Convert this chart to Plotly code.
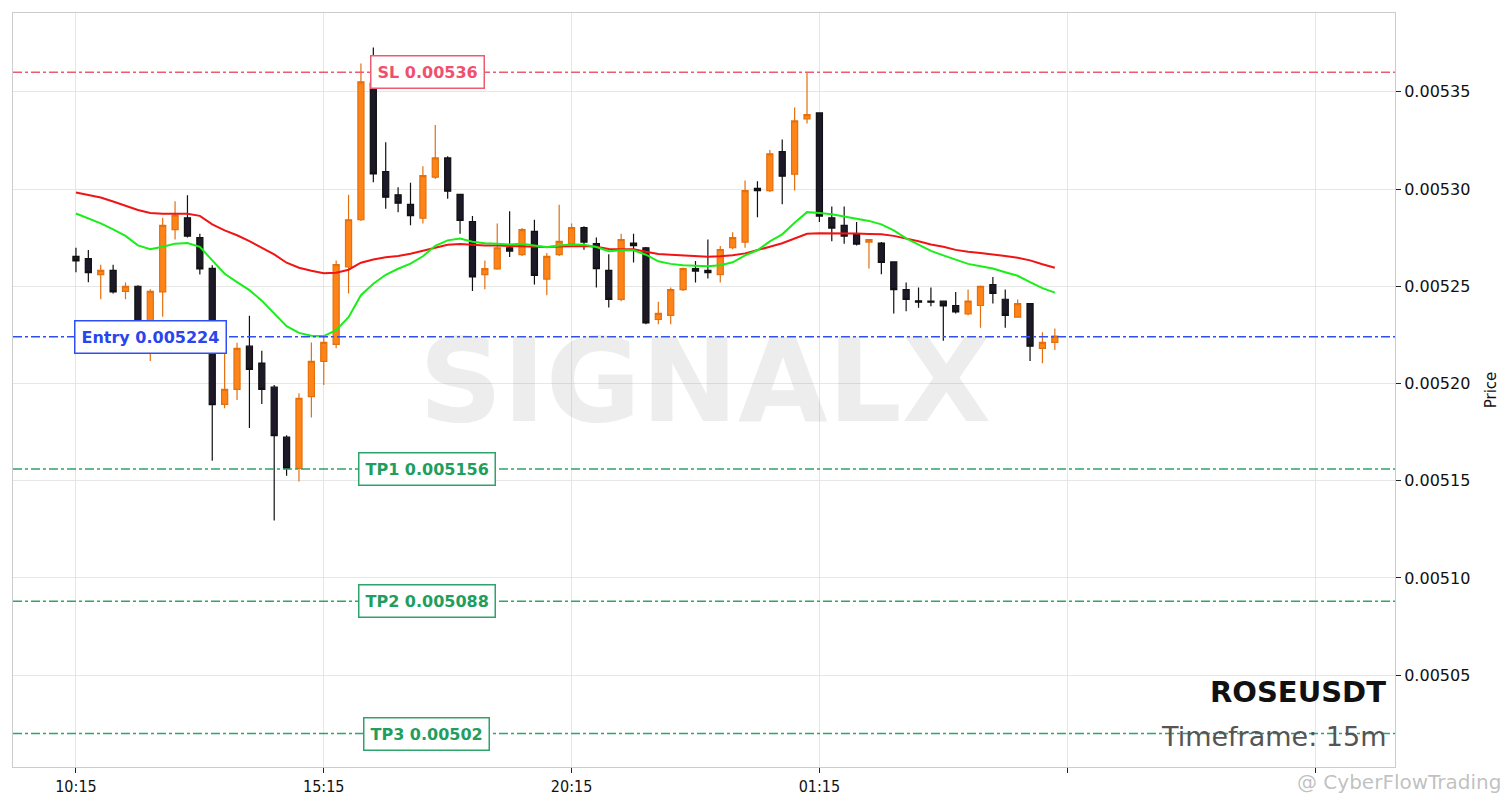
import pandas as pd
import plotly.graph_objects as go

# ---- data (prices) ----
symbol = "ROSEUSDT"
timeframe = "15m"
start_time = "2025-01-01 10:15"
n_candles = 80

opens = [0.0052654, 0.0052642, 0.0052560, 0.0052582, 0.0052474, 0.0052500, 0.0052197, 0.0052471, 0.0052791, 0.0052852,
         0.0052750, 0.0052592, 0.0051893, 0.0051970, 0.0052192, 0.0052105, 0.0051981, 0.0051724, 0.0051563, 0.0051932,
         0.0052114, 0.0052201, 0.0052599, 0.0052842, 0.0053545, 0.0053090, 0.0052970, 0.0052921, 0.0052850, 0.0053061,
         0.0053160, 0.0052972, 0.0052833, 0.0052560, 0.0052589, 0.0052698, 0.0052663, 0.0052782, 0.0052537, 0.0052663,
         0.0052719, 0.0052801, 0.0052719, 0.0052582, 0.0052432, 0.0052722, 0.0052698, 0.0052329, 0.0052350, 0.0052483,
         0.0052591, 0.0052582, 0.0052560, 0.0052698, 0.0052727, 0.0053003, 0.0052992, 0.0053192, 0.0053076, 0.0053360,
         0.0053391, 0.0052852, 0.0052813, 0.0052770, 0.0052727, 0.0052722, 0.0052625, 0.0052483, 0.0052425, 0.0052423,
         0.0052423, 0.0052401, 0.0052358, 0.0052401, 0.0052509, 0.0052433, 0.0052341, 0.0052411, 0.0052181, 0.0052211]
highs = [0.0052698, 0.0052686, 0.0052611, 0.0052610, 0.0052519, 0.0052505, 0.0052485, 0.0052852, 0.0052937, 0.0052968,
         0.0052770, 0.0052608, 0.0052211, 0.0052209, 0.0052348, 0.0052168, 0.0051992, 0.0051734, 0.0051950, 0.0052211,
         0.0052244, 0.0052633, 0.0052970, 0.0053645, 0.0053727, 0.0053240, 0.0053009, 0.0053032, 0.0053117, 0.0053329,
         0.0053168, 0.0052975, 0.0052861, 0.0052633, 0.0052822, 0.0052886, 0.0052800, 0.0052842, 0.0052671, 0.0052919,
         0.0052822, 0.0052809, 0.0052750, 0.0052664, 0.0052770, 0.0052770, 0.0052702, 0.0052420, 0.0052493, 0.0052596,
         0.0052630, 0.0052740, 0.0052707, 0.0052778, 0.0053044, 0.0053040, 0.0053201, 0.0053255, 0.0053419, 0.0053599,
         0.0053394, 0.0052910, 0.0052910, 0.0052830, 0.0052742, 0.0052727, 0.0052627, 0.0052519, 0.0052493, 0.0052493,
         0.0052425, 0.0052471, 0.0052483, 0.0052504, 0.0052548, 0.0052483, 0.0052432, 0.0052414, 0.0052263, 0.0052283]
lows = [0.0052572, 0.0052521, 0.0052433, 0.0052463, 0.0052433, 0.0052220, 0.0052115, 0.0052343, 0.0052740, 0.0052750,
        0.0052560, 0.0051603, 0.0051873, 0.0051915, 0.0051771, 0.0051895, 0.0051296, 0.0051526, 0.0051496, 0.0051825,
        0.0051992, 0.0052181, 0.0052463, 0.0052835, 0.0053035, 0.0052898, 0.0052880, 0.0052813, 0.0052822, 0.0053052,
        0.0052950, 0.0052770, 0.0052476, 0.0052485, 0.0052585, 0.0052650, 0.0052655, 0.0052509, 0.0052454, 0.0052655,
        0.0052710, 0.0052688, 0.0052493, 0.0052391, 0.0052423, 0.0052622, 0.0052305, 0.0052305, 0.0052305, 0.0052476,
        0.0052519, 0.0052540, 0.0052519, 0.0052690, 0.0052698, 0.0052855, 0.0052985, 0.0052921, 0.0052992, 0.0053337,
        0.0052830, 0.0052731, 0.0052719, 0.0052709, 0.0052591, 0.0052562, 0.0052360, 0.0052372, 0.0052389, 0.0052397,
        0.0052220, 0.0052360, 0.0052351, 0.0052286, 0.0052411, 0.0052286, 0.0052338, 0.0052115, 0.0052104, 0.0052172]
closes = [0.0052630, 0.0052570, 0.0052582, 0.0052471, 0.0052500, 0.0052249, 0.0052474, 0.0052813, 0.0052866, 0.0052758,
          0.0052589, 0.0051891, 0.0051970, 0.0052181, 0.0052073, 0.0051970, 0.0051732, 0.0051563, 0.0051924, 0.0052114,
          0.0052211, 0.0052611, 0.0052842, 0.0053551, 0.0053078, 0.0052958, 0.0052927, 0.0052863, 0.0053069, 0.0053160,
          0.0052989, 0.0052838, 0.0052548, 0.0052591, 0.0052698, 0.0052681, 0.0052791, 0.0052556, 0.0052654, 0.0052731,
          0.0052801, 0.0052727, 0.0052591, 0.0052432, 0.0052740, 0.0052709, 0.0052312, 0.0052360, 0.0052483, 0.0052591,
          0.0052578, 0.0052570, 0.0052688, 0.0052750, 0.0052992, 0.0052992, 0.0053181, 0.0053066, 0.0053350, 0.0053382,
          0.0052861, 0.0052799, 0.0052758, 0.0052717, 0.0052740, 0.0052622, 0.0052483, 0.0052432, 0.0052418, 0.0052418,
          0.0052399, 0.0052368, 0.0052423, 0.0052500, 0.0052463, 0.0052350, 0.0052411, 0.0052192, 0.0052211, 0.0052244]

ma_slow = [0.0052982, 0.0052969, 0.0052956, 0.0052936, 0.0052913, 0.0052892, 0.0052877, 0.0052873, 0.0052873, 0.0052873,
           0.0052862, 0.0052818, 0.0052787, 0.0052762, 0.0052732, 0.0052700, 0.0052664, 0.0052621, 0.0052595, 0.0052580,
           0.0052567, 0.0052569, 0.0052585, 0.0052621, 0.0052638, 0.0052649, 0.0052656, 0.0052667, 0.0052682, 0.0052700,
           0.0052713, 0.0052717, 0.0052713, 0.0052710, 0.0052709, 0.0052707, 0.0052705, 0.0052704, 0.0052702, 0.0052704,
           0.0052706, 0.0052707, 0.0052703, 0.0052691, 0.0052690, 0.0052690, 0.0052677, 0.0052666, 0.0052662, 0.0052659,
           0.0052656, 0.0052652, 0.0052654, 0.0052659, 0.0052669, 0.0052685, 0.0052703, 0.0052721, 0.0052744, 0.0052770,
           0.0052773, 0.0052773, 0.0052773, 0.0052771, 0.0052769, 0.0052767, 0.0052759, 0.0052746, 0.0052731, 0.0052715,
           0.0052703, 0.0052687, 0.0052677, 0.0052671, 0.0052664, 0.0052655, 0.0052646, 0.0052633, 0.0052613, 0.0052595]
ma_fast = [0.0052874, 0.0052849, 0.0052823, 0.0052792, 0.0052759, 0.0052710, 0.0052690, 0.0052703, 0.0052719, 0.0052722,
           0.0052703, 0.0052633, 0.0052564, 0.0052521, 0.0052480, 0.0052426, 0.0052360, 0.0052295, 0.0052260, 0.0052246,
           0.0052244, 0.0052274, 0.0052341, 0.0052454, 0.0052513, 0.0052559, 0.0052590, 0.0052616, 0.0052654, 0.0052708,
           0.0052736, 0.0052745, 0.0052729, 0.0052721, 0.0052718, 0.0052715, 0.0052718, 0.0052708, 0.0052700, 0.0052710,
           0.0052715, 0.0052714, 0.0052702, 0.0052680, 0.0052685, 0.0052685, 0.0052662, 0.0052628, 0.0052615, 0.0052608,
           0.0052605, 0.0052603, 0.0052608, 0.0052623, 0.0052659, 0.0052685, 0.0052731, 0.0052767, 0.0052826, 0.0052881,
           0.0052876, 0.0052870, 0.0052859, 0.0052846, 0.0052836, 0.0052818, 0.0052787, 0.0052746, 0.0052713, 0.0052682,
           0.0052659, 0.0052636, 0.0052615, 0.0052603, 0.0052591, 0.0052572, 0.0052554, 0.0052521, 0.0052490, 0.0052467]

levels = [("SL", "0.00536", 0.00536, "#ef5a6f", "#f0506e"),
          ("Entry", "0.005224", 0.005224, "#2d4ff5", "#2a45ee"),
          ("TP1", "0.005156", 0.005156, "#2ea36b", "#1f9e5e"),
          ("TP2", "0.005088", 0.005088, "#2ea36b", "#1f9e5e"),
          ("TP3", "0.00502", 0.00502, "#2ea36b", "#1f9e5e")]
label_x = {"SL": 0.3, "Entry": 0.0998, "TP1": 0.2995, "TP2": 0.2995, "TP3": 0.2995}

y_ticks = [0.00505, 0.00510, 0.00515, 0.00520, 0.00525, 0.00530, 0.00535]
x_tick_times = ["2025-01-01 10:15", "2025-01-01 15:15", "2025-01-01 20:15",
                "2025-01-02 01:15", "2025-01-02 06:15", "2025-01-02 11:15"]
x_tick_text = ["10:15", "15:15", "20:15", "01:15", "", ""]
x_range = ["2025-01-01 08:58:48", "2025-01-02 12:51:48"]
y_range = [0.0050028, 0.0053905]

times = pd.date_range(start_time, periods=n_candles, freq="15min")

FONT = "DejaVu Sans"

fig = go.Figure()
fig.add_trace(go.Candlestick(
    x=times, open=opens, high=highs, low=lows, close=closes,
    increasing=dict(line=dict(color="#e3700f", width=1.2), fillcolor="#ff8418"),
    decreasing=dict(line=dict(color="#111111", width=1.2), fillcolor="#1d1929"),
    whiskerwidth=0, showlegend=False, hoverinfo="skip",
))
fig.add_trace(go.Scatter(x=times, y=ma_slow, mode="lines",
                         line=dict(color="#f01414", width=2), showlegend=False, hoverinfo="skip"))
fig.add_trace(go.Scatter(x=times, y=ma_fast, mode="lines",
                         line=dict(color="#19ee19", width=2), showlegend=False, hoverinfo="skip"))

annotations = []
for name, txt, val, lcol, tcol in levels:
    fig.add_hline(y=val, line=dict(color=lcol, width=1.4, dash="dashdot"))
    annotations.append(dict(
        x=label_x[name], xref="paper", y=val, yref="y", text=f"<b>{name} {txt}</b>",
        showarrow=False, xanchor="center", yanchor="middle",
        font=dict(family=FONT, size=16, color=tcol),
        bgcolor="white", bordercolor=lcol, borderwidth=1.5, borderpad=6,
    ))

annotations += [
    dict(x=0.5004, y=0.512, xref="paper", yref="paper", text="<b>SIGNALX</b>", showarrow=False,
         font=dict(family=FONT, size=116, color="rgba(150,150,150,0.17)"), xanchor="center", yanchor="middle"),
    dict(x=0.995, y=0.0992, xref="paper", yref="paper", text=f"<b>{symbol}</b>", showarrow=False,
         font=dict(family=FONT, size=29, color="#111111"), xanchor="right", yanchor="middle"),
    dict(x=0.995, y=0.041, xref="paper", yref="paper", text=f"Timeframe: {timeframe}", showarrow=False,
         font=dict(family=FONT, size=27, color="#555555"), xanchor="right", yanchor="middle"),
    dict(x=1.078, y=-0.0198, xref="paper", yref="paper", text="@ CyberFlowTrading", showarrow=False,
         font=dict(family=FONT, size=20, color="rgba(140,140,140,0.55)"), xanchor="right", yanchor="middle"),
]

fig.update_layout(
    width=1512, height=808, autosize=False,
    margin=dict(l=12, r=117, t=12, b=40),
    paper_bgcolor="white", plot_bgcolor="white",
    font=dict(family=FONT, size=15, color="#111111"),
    annotations=annotations,
    xaxis=dict(type="date", range=x_range, rangeslider=dict(visible=False),
               tickvals=x_tick_times, ticktext=x_tick_text,
               showgrid=True, gridcolor="#e6e6e6", gridwidth=1,
               showline=True, linecolor="#cccccc", linewidth=1, mirror=True,
               ticks="outside", ticklen=5, tickcolor="#222222",
               tickfont=dict(family="DejaVu Sans Condensed, DejaVu Sans", size=16, color="#111111"),
               zeroline=False),
    yaxis=dict(side="right", range=y_range, tickvals=y_ticks, tickformat=".5f",
               showgrid=True, gridcolor="#e6e6e6", gridwidth=1,
               showline=True, linecolor="#cccccc", linewidth=1, mirror=True,
               ticks="outside", ticklen=5, tickcolor="#222222",
               tickfont=dict(family=FONT, size=16, color="#111111"),
               title=dict(text="Price", font=dict(family=FONT, size=15, color="#111111"), standoff=16),
               zeroline=False),
)

fig.write_html("out.html", config={"displayModeBar": False},
               post_script="document.body.style.margin='0';")
